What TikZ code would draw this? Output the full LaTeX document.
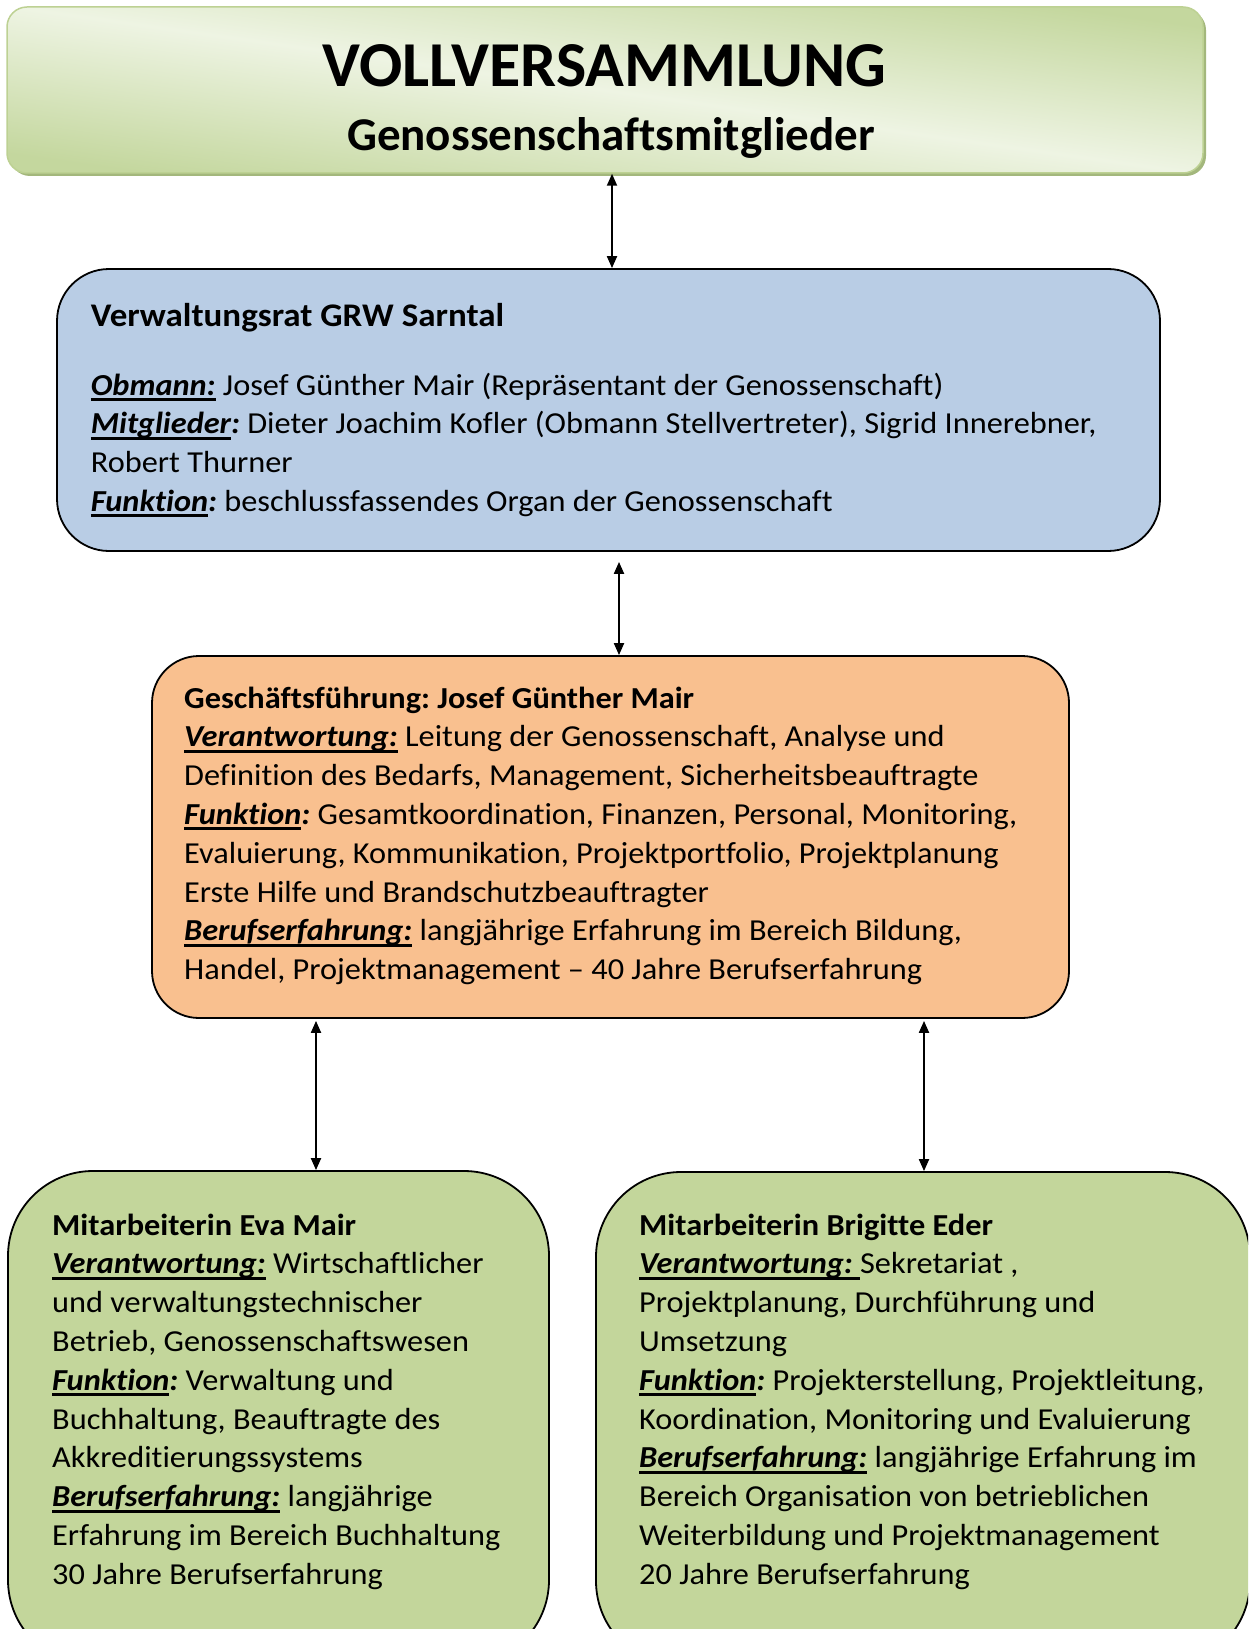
\documentclass[tikz,border=0pt]{standalone}
\usepackage{fontspec}
\setmainfont{Carlito}[FakeStretch=1.06, Ligatures=NoCommon]
\newfontfamily\titlefont{Carlito}[Ligatures=NoCommon]
\usetikzlibrary{arrows.meta,shadows}
\definecolor{vvdark}{HTML}{C4D79E}
\definecolor{vvlight}{HTML}{EEF4E3}
\definecolor{vvshadow}{HTML}{A3B77C}
\definecolor{vvborder}{HTML}{BDD193}
\definecolor{blueFill}{HTML}{B9CDE5}
\definecolor{orangeFill}{HTML}{F9C08F}
\definecolor{greenFill}{HTML}{C3D69B}
\frenchspacing
\newsavebox\ulbox
\newcommand\ulab[1]{\leavevmode\sbox\ulbox{\bfseries\itshape #1}\rlap{\rule[-6pt]{\wd\ulbox}{3pt}}\usebox\ulbox}
\newcommand\ulabc[1]{\ulab{#1}{\bfseries\itshape :}}
\tikzset{
  orgbox/.style={draw=black, line width=1.8pt, inner sep=0pt},
  txt/.style={anchor=base west, inner sep=0pt, font=\fontsize{30.5}{38.8}\selectfont\frenchspacing},
  link/.style={{Triangle[length=12pt,width=10pt]}-{Triangle[length=12pt,width=10pt]}, line width=2pt}
}
\begin{document}
\begin{tikzpicture}[x=1pt,y=-1pt]
\useasboundingbox (0,0) rectangle (1248,1629);
\clip (0,0) rectangle (1248,1629);
% boxes
\node[draw=vvborder, line width=1.5pt, rounded corners=20pt, minimum width=1196pt, minimum height=166pt, inner sep=0pt,
      top color=vvdark, bottom color=vvdark, middle color=vvlight, shading angle=-8,
      drop shadow={shadow xshift=3pt, shadow yshift=-3pt, fill=vvshadow, opacity=1}] (vv) at (605,90) {};
\node[orgbox, fill=blueFill, rounded corners=52pt, minimum width=1103pt, minimum height=282pt] (vr) at (608.5,410) {};
\node[orgbox, fill=orangeFill, rounded corners=47pt, minimum width=917pt, minimum height=362pt] (gf) at (610.5,837) {};
\node[orgbox, fill=greenFill, rounded corners=85pt, minimum width=541pt, minimum height=494pt] (ma1) at (278.5,1418) {};
\node[orgbox, fill=greenFill, rounded corners=85pt, minimum width=654pt, minimum height=494pt] (ma2) at (923,1419) {};
% connector x positions
\coordinate (a1) at (612,0);
\coordinate (a2) at (619,0);
\coordinate (a3) at (316,0);
\coordinate (a4) at (924,0);
\draw[link] (vv.south -| a1) -- (vr.north -| a1);
\draw[link, shorten <=10pt] (vr.south -| a2) -- (gf.north -| a2);
\draw[link, shorten <=2pt] (gf.south -| a3) -- (ma1.north -| a3);
\draw[link, shorten <=2pt] (gf.south -| a4) -- (ma2.north -| a4);
% texts
\node[anchor=base, inner sep=0pt, font=\titlefont\fontsize{64}{70}\selectfont\bfseries] (vvt1) at (604.5,87) {VOLLVERSAMMLUNG};
\node[anchor=base, inner sep=0pt, font=\titlefont\fontsize{47}{52}\selectfont\bfseries] (vvt2) at (611,151) {Genossenschaftsmitglieder};
\node[txt, font=\fontsize{33}{38.8}\selectfont] (vrt) at (90.7,326) {\bfseries Verwaltungsrat GRW Sarntal};
\node[txt] (vrb) at (90.7,395) {\parbox[t]{1080pt}{\raggedright
\ulab{Obmann:} Josef Günther Mair (Repräsentant der Genossenschaft)\\
\ulabc{Mitglieder} Dieter Joachim Kofler (Obmann Stellvertreter), Sigrid Innerebner,\\
Robert Thurner\\
\ulabc{Funktion} beschlussfassendes Organ der Genossenschaft}};
\node[txt] (gft) at (184,708) {\parbox[t]{880pt}{\raggedright
{\bfseries Geschäftsführung: Josef Günther Mair}\\
\ulab{Verantwortung:} Leitung der Genossenschaft, Analyse und\\
Definition des Bedarfs, Management, Sicherheitsbeauftragte\\
\ulabc{Funktion} Gesamtkoordination, Finanzen, Personal, Monitoring,\\
Evaluierung, Kommunikation, Projektportfolio, Projektplanung\\
Erste Hilfe und Brandschutzbeauftragter\\
\ulab{Berufserfahrung:} langjährige Erfahrung im Bereich Bildung,\\
Handel, Projektmanagement – 40 Jahre Berufserfahrung}};
\node[txt] (ma1t) at (52,1235) {\parbox[t]{495pt}{\raggedright
{\bfseries Mitarbeiterin Eva Mair}\\
\ulab{Verantwortung:} Wirtschaftlicher\\
und verwaltungstechnischer\\
Betrieb, Genossenschaftswesen\\
\ulabc{Funktion} Verwaltung und\\
Buchhaltung, Beauftragte des\\
Akkreditierungssystems\\
\ulab{Berufserfahrung:} langjährige\\
Erfahrung im Bereich Buchhaltung\\
30 Jahre Berufserfahrung}};
\node[txt] (ma2t) at (639,1235) {\parbox[t]{605pt}{\raggedright
{\bfseries Mitarbeiterin Brigitte Eder}\\
\ulab{Verantwortung:\ }Sekretariat ,\\
Projektplanung, Durchführung und\\
Umsetzung\\
\ulabc{Funktion} Projekterstellung, Projektleitung,\\
Koordination, Monitoring und Evaluierung\\
\ulab{Berufserfahrung:} langjährige Erfahrung im\\
Bereich Organisation von betrieblichen\\
Weiterbildung und Projektmanagement\\
20 Jahre Berufserfahrung}};
\end{tikzpicture}
\end{document}
